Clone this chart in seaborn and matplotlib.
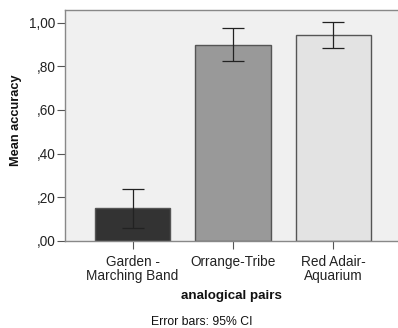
import matplotlib
matplotlib.use("Agg")
import matplotlib.pyplot as plt
import seaborn as sns
import pandas as pd
import numpy as np

categories = ["Garden -\nMarching Band", "Orrange-Tribe", "Red Adair-\nAquarium"]
means = [0.149, 0.899, 0.945]
ci_low = [0.061, 0.823, 0.885]
ci_high = [0.236, 0.974, 1.002]
colors = ["#333333", "#999999", "#e3e3e3"]
yticks = [0.0, 0.2, 0.4, 0.6, 0.8, 1.0]
yticklabels = [",00", ",20", ",40", ",60", ",80", "1,00"]

sns.set_theme(style="white")
plt.rcParams['font.family'] = ['Liberation Sans', 'DejaVu Sans']

df = pd.DataFrame({"pair": categories, "mean": means})

fig = plt.figure(figsize=(3.98, 3.28), dpi=100)
ax = fig.add_axes([65/398, 1-241/328, 1-65/398, (241-10)/328])
ax.set_facecolor("#f0f0f0")

sns.barplot(data=df, x="pair", y="mean", hue="pair", palette=colors, legend=False,
            width=0.75, edgecolor="#555555", linewidth=1.0, errorbar=None, ax=ax)

x = np.arange(len(categories))
m = np.array(means)
yerr = np.vstack([m - np.array(ci_low), np.array(ci_high) - m])
ax.errorbar(x, m, yerr=yerr, fmt="none", ecolor="#222222", elinewidth=0.9,
            capsize=8, capthick=0.9, zorder=5)

ax.set_xlim(-0.672, 2.642)
ax.set_ylim(0, 1.058)
ax.set_yticks(yticks)
ax.set_yticklabels(yticklabels, fontsize=9.8, color="#222222")
ax.tick_params(axis="y", length=6, width=0.8, color="#555555", pad=1, left=True)
ax.tick_params(axis="x", length=6, width=0.8, color="#555555", pad=4, bottom=True,
               labelsize=9.8, labelcolor="#222222")
for lbl in ax.get_xticklabels():
    lbl.set_linespacing(0.98)

for side in ["left", "top", "bottom"]:
    ax.spines[side].set_visible(True)
    ax.spines[side].set_color("#888888")
    ax.spines[side].set_linewidth(1.0)
ax.spines["right"].set_visible(False)

ax.set_xlabel("analogical pairs", fontsize=9.6, fontweight="bold", color="#111111")
ax.set_ylabel("Mean accuracy", fontsize=9.2, fontweight="bold", color="#111111")
ax.xaxis.set_label_coords(0.5, -(295.7-241)/231, transform=ax.transAxes)
ax.yaxis.set_label_coords(-(65-16)/333, (241-120.5)/231, transform=ax.transAxes)
ax.xaxis.label.set_va("center")
ax.yaxis.label.set_va("center")

fig.text(202/398, 1-321.7/328, "Error bars: 95% CI", ha="center", va="center",
         fontsize=8.8, color="#111111")

fig.savefig("out.png", dpi=100)
